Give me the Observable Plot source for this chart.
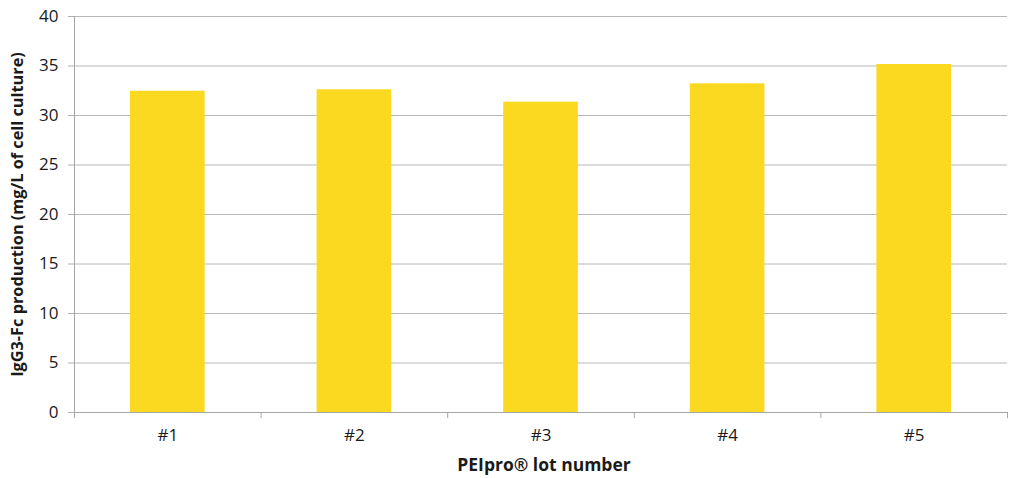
<!DOCTYPE html>
<html><head><meta charset="utf-8">
<script src="https://cdn.jsdelivr.net/npm/d3@7"></script>
<script src="https://cdn.jsdelivr.net/npm/@observablehq/plot@0.6"></script>
<style>
body{margin:0;background:#fff;}
#chart svg{font-family:"Open Sans","Liberation Sans",sans-serif;}
</style>
</head><body><div id="chart"></div>
<script>
const lots = ["#1", "#2", "#3", "#4", "#5"];
const production = [32.45, 32.6, 31.35, 33.2, 35.15];
const yTicks = [0, 5, 10, 15, 20, 25, 30, 35, 40];
const xLabel = "PEIpro® lot number";
const yLabel = "IgG3-Fc production (mg/L of cell culture)";

const data = lots.map((lot, i) => ({lot, i, value: production[i]}));
const barPad = 0.3;

const chart = Plot.plot({
  width: 1013,
  height: 478,
  marginLeft: 74,
  marginRight: 6,
  marginTop: 16,
  marginBottom: 66,
  style: {fontSize: "16px", color: "#1a1a1a", background: "#fff"},
  x: {domain: [0, lots.length]},
  y: {domain: [0, 40]},
  marks: [
    Plot.gridY(yTicks, {stroke: "#b8b8b8", strokeOpacity: 1}),
    Plot.rectY(data, {x1: d => d.i + barPad, x2: d => d.i + 1 - barPad, y: "value", fill: "#FBD921"}),
    Plot.ruleY([0], {stroke: "#a6a6a6"}),
    Plot.ruleX([0], {stroke: "#a6a6a6"}),
    Plot.axisY(yTicks, {tickSize: 6, tickPadding: 10, stroke: "#b0b0b0", label: null, fontSize: 17}),
    Plot.axisX(d3.range(lots.length + 1), {tickSize: 6, tickFormat: () => "", stroke: "#a6a6a6", label: null}),
    Plot.axisX(lots.map((l, i) => i + 0.5), {tickSize: 0, tickPadding: 16, tickFormat: d => lots[Math.floor(d)], label: null, fontSize: 17}),
    Plot.text([xLabel], {frameAnchor: "bottom", dy: 53, dx: 3, text: d => d, fontWeight: "bold", fontSize: 17.5, lineAnchor: "middle", textAnchor: "middle"}),
    Plot.text([yLabel], {frameAnchor: "left", dx: -57, rotate: -90, text: d => d, fontWeight: "bold", fontSize: 16.3, lineAnchor: "middle", textAnchor: "middle"})
  ]
});
document.getElementById("chart").appendChild(chart);
</script>
</body></html>
